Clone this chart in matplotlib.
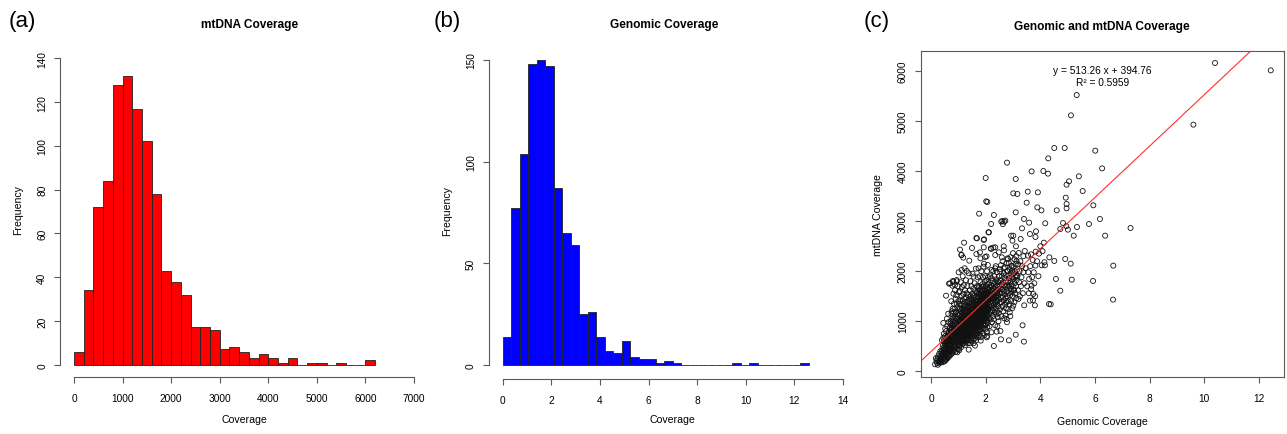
import numpy as np
import matplotlib
matplotlib.use("Agg")
import matplotlib.pyplot as plt

plt.rcParams['font.family'] = ['Liberation Sans', 'DejaVu Sans']

# ---------------- data ----------------
# (a) mtDNA coverage histogram (bin width 200 starting at 0)
mt_bin_start = 0
mt_bin_width = 200
mt_counts = [6, 34, 72, 84, 128, 132, 117, 102, 78, 43, 38, 32, 17, 17, 16, 7, 8, 6,
             3, 5, 3, 1, 3, 0, 1, 1, 0, 1, 0, 0, 2]
mt_xticks = [0, 1000, 2000, 3000, 4000, 5000, 6000, 7000]
mt_yticks = [0, 20, 40, 60, 80, 100, 120, 140]

# (b) genomic coverage histogram (bin width 0.35 starting at 0)
gen_bin_start = 0.0
gen_bin_width = 0.35
gen_counts = [14, 77, 104, 148, 150, 147, 87, 65, 59, 25, 26, 14, 7, 6, 12, 4, 3, 3, 1, 2, 1,
              0, 0, 0, 0, 0, 0, 1, 0, 1, 0, 0, 0, 0, 0, 1]
gen_xticks = [0, 2, 4, 6, 8, 10, 12, 14]
gen_yticks = [0, 50, 100, 150]

# (c) scatter: (genomic coverage, mtDNA coverage)
outlier_points = [
    (10.39, 6160), (12.43, 6013), (5.33, 5520), (5.12, 5114), (9.60, 4928), (4.51, 4462),
    (4.89, 4462), (6.01, 4408), (2.78, 4169), (4.29, 4255), (6.26, 4055), (2.00, 3862),
    (3.10, 3842), (3.68, 3995), (4.11, 4002), (4.28, 3949), (5.41, 3896), (5.05, 3796),
    (4.96, 3729), (5.55, 3602), (3.01, 3556), (3.16, 3543), (3.54, 3589), (3.91, 3576),
    (2.02, 3396), (2.06, 3383), (4.93, 3469), (4.96, 3343), (4.96, 3256), (3.50, 3369),
    (3.89, 3276), (4.04, 3216), (4.60, 3216), (5.94, 3316), (1.76, 3150), (3.10, 3176),
    (2.30, 3123), (7.30, 2863), (6.67, 2111), (6.66, 1432), (5.93, 1805), (5.78, 2943),
    (6.18, 3043), (6.37, 2710), (5.34, 2883), (5.22, 2710), (5.01, 2830), (4.73, 2843),
    (4.83, 2963), (4.91, 2244), (5.11, 2151), (5.15, 1831), (4.57, 1845), (4.73, 1611),
    (4.51, 2204), (4.33, 2277), (4.13, 2570), (4.18, 2957), (4.00, 2497), (4.05, 2118),
    (4.17, 2118), (4.32, 1345), (4.38, 1338), (3.80, 1318), (3.62, 1412), (3.41, 1318),
    (3.40, 593), (3.35, 919), (3.10, 732), (2.85, 619), (2.30, 506), (2.56, 639),
    (4.95, 2900), (3.88, 2200), (3.95, 2350), (4.08, 2400), (3.93, 1900), (4.15, 2180),
]
mid_points = [
    (2.61, 3003), (2.68, 2990), (2.63, 2940), (2.20, 2943), (2.10, 2777), (1.66, 2664),
    (1.93, 2624), (1.21, 2570), (1.50, 2464), (1.06, 2431), (1.11, 2324), (1.18, 2271),
    (1.01, 1978), (0.70, 1758), (0.80, 1805), (0.94, 1798), (0.66, 1751), (0.55, 1511),
    (0.45, 966), (0.45, 666), (3.40, 3043), (3.59, 2970), (3.33, 2857), (3.62, 2744),
    (3.84, 2797), (3.82, 2684), (3.01, 2710), (2.93, 2710), (2.98, 2610), (3.28, 2644),
    (3.11, 2497), (3.43, 2404), (3.55, 2311), (3.66, 2337), (3.83, 2391), (3.72, 2224),
    (3.82, 2111), (3.76, 1978), (3.68, 1711), (3.59, 1845), (3.74, 1545), (3.21, 2364),
    (3.13, 2198), (2.95, 2111), (2.82, 2244), (2.67, 2417), (2.48, 2377), (2.28, 2471),
    (2.20, 2444), (1.98, 2284), (1.79, 2377), (3.11, 1911), (3.38, 1978), (3.04, 1625),
    (3.20, 1445), (3.01, 1312), (2.88, 1179), (2.73, 1112), (2.77, 1045), (2.43, 899),
    (2.40, 792), (2.54, 806), (2.21, 779), (2.04, 679), (2.06, 706), (1.82, 613),
    (1.61, 513), (1.38, 433), (1.02, 446), (2.57, 2990), (2.72, 3010), (2.12, 2777),
    (1.68, 2657), (1.94, 2637), (1.93, 2477), (2.19, 2457), (2.35, 2477), (2.66, 2497),
    (1.12, 2324), (1.40, 2210), (1.66, 2344), (1.81, 2257), (2.03, 2297), (2.35, 2324),
    (2.59, 2277), (2.80, 2257), (1.23, 2058), (1.12, 2024), (1.31, 2004), (0.94, 1824),
    (0.82, 1791), (0.88, 1724), (0.78, 1711), (1.56, 1891), (1.74, 2058), (1.92, 2091),
    (2.08, 2124), (2.22, 2024), (2.35, 2058), (2.53, 1991), (2.66, 2058),
    (3.16, 1900), (3.18, 1620), (3.19, 2140), (3.22, 1780), (3.24, 2000), (3.25, 1500),
    (3.27, 2200), (3.29, 1700), (3.31, 1880), (3.33, 2100), (3.36, 1560), (3.38, 2300),
    (3.42, 1760), (3.46, 2060), (3.52, 1700), (3.56, 1980), (3.58, 1560), (3.63, 2100),
    (3.66, 1640), (3.70, 1880), (3.73, 1420), (3.78, 1760), (3.81, 1500),
]
core_low = [
    (0.15, 140), (0.18, 260), (0.20, 210), (0.22, 170), (0.24, 250), (0.25, 130), (0.26, 300),
    (0.28, 200), (0.30, 160), (0.30, 350), (0.32, 280), (0.33, 230), (0.34, 190), (0.34, 400),
    (0.36, 180), (0.37, 260), (0.38, 320), (0.39, 220), (0.40, 400), (0.40, 290), (0.41, 350),
    (0.42, 180), (0.42, 460), (0.43, 240), (0.44, 310), (0.44, 520), (0.45, 380), (0.46, 270),
    (0.46, 430), (0.47, 600), (0.48, 330), (0.48, 210), (0.49, 480), (0.50, 390), (0.50, 560),
    (0.51, 300), (0.51, 700), (0.52, 440), (0.53, 250), (0.53, 520), (0.54, 360), (0.54, 620),
    (0.55, 470), (0.55, 800), (0.56, 330), (0.56, 560), (0.57, 410), (0.57, 680), (0.58, 280),
    (0.58, 500), (0.59, 590), (0.59, 900), (0.60, 370), (0.60, 450), (0.61, 640), (0.61, 530),
    (0.62, 300), (0.62, 740), (0.62, 420), (0.63, 580), (0.63, 480), (0.64, 350), (0.64, 660),
    (0.64, 980), (0.65, 520), (0.65, 440), (0.66, 610), (0.66, 380), (0.66, 780), (0.67, 470),
    (0.67, 550), (0.67, 700), (0.68, 320), (0.68, 620), (0.68, 860), (0.69, 500), (0.69, 410),
    (0.69, 720), (0.40, 620), (0.47, 750), (0.52, 850), (0.58, 1050), (0.63, 1150), (0.60, 260),
    (0.55, 230), (0.50, 200), (0.65, 290),
    (0.70, 520), (0.70, 880), (0.71, 640), (0.71, 410), (0.72, 760), (0.72, 1000), (0.73, 560),
    (0.73, 690), (0.74, 450), (0.74, 830), (0.75, 600), (0.75, 1150), (0.76, 720), (0.76, 380),
    (0.77, 940), (0.77, 540), (0.78, 660), (0.78, 800), (0.79, 480), (0.79, 1250), (0.80, 590),
    (0.80, 900), (0.81, 710), (0.81, 430), (0.82, 1050), (0.82, 620), (0.83, 780), (0.83, 520),
    (0.84, 870), (0.84, 1350), (0.85, 650), (0.85, 960), (0.86, 560), (0.86, 740), (0.87, 1100),
    (0.87, 470), (0.88, 820), (0.88, 680), (0.89, 590), (0.89, 1000), (0.90, 760), (0.90, 1450),
    (0.91, 640), (0.91, 880), (0.92, 520), (0.92, 1180), (0.93, 720), (0.93, 950), (0.94, 610),
    (0.94, 810), (0.95, 1050), (0.95, 450), (0.96, 700), (0.96, 900), (0.97, 580), (0.97, 1280),
    (0.98, 780), (0.98, 660), (0.99, 1000), (0.99, 850), (1.00, 540), (1.00, 730), (1.01, 920),
    (1.01, 1120), (1.02, 640), (1.02, 800), (1.03, 1000), (1.03, 500), (1.04, 700), (1.04, 880),
    (0.72, 330), (0.78, 360), (0.84, 410), (0.90, 390), (0.96, 380), (1.03, 420), (0.74, 1400),
    (0.82, 1550), (0.88, 1620), (0.93, 1520), (0.98, 1700), (1.02, 1580), (0.76, 1200),
    (0.86, 1250), (0.94, 1350), (1.00, 1400), (0.71, 950), (0.79, 1080), (0.85, 1180),
    (0.91, 1060), (0.97, 1150), (1.04, 1250), (0.73, 820), (0.80, 1000), (0.87, 920),
    (0.92, 780), (0.99, 620), (1.03, 760), (0.77, 870),
]
core_mid = [
    (1.05, 620), (1.05, 980), (1.05, 1350), (1.05, 780), (1.06, 520), (1.06, 880), (1.06, 1150),
    (1.06, 1600), (1.07, 700), (1.07, 1020), (1.07, 840), (1.07, 1250), (1.08, 590), (1.08, 930),
    (1.08, 1430), (1.08, 760), (1.09, 1080), (1.09, 660), (1.09, 1780), (1.09, 890), (1.10, 480),
    (1.10, 1000), (1.10, 1200), (1.10, 810), (1.11, 720), (1.11, 950), (1.11, 1320), (1.11, 570),
    (1.12, 860), (1.12, 1100), (1.12, 1500), (1.12, 680), (1.13, 780), (1.13, 1040), (1.13, 910),
    (1.13, 1680), (1.14, 610), (1.14, 990), (1.14, 1260), (1.14, 830), (1.15, 740), (1.15, 1130),
    (1.15, 540), (1.15, 1400), (1.16, 880), (1.16, 1060), (1.16, 690), (1.16, 1900), (1.17, 950),
    (1.17, 770), (1.17, 1210), (1.17, 620), (1.18, 1010), (1.18, 840), (1.18, 1550), (1.18, 710),
    (1.19, 900), (1.19, 1160), (1.19, 560), (1.19, 1340), (1.20, 800), (1.20, 1050), (1.20, 660),
    (1.20, 1720), (1.21, 930), (1.21, 1240), (1.21, 750), (1.21, 1080), (1.22, 600), (1.22, 1000),
    (1.22, 1450), (1.22, 860), (1.23, 720), (1.23, 1120), (1.23, 940), (1.23, 1300), (1.24, 820),
    (1.24, 1030), (1.24, 520), (1.24, 1620), (1.25, 980), (1.25, 760), (1.25, 1190), (1.25, 880),
    (1.26, 640), (1.26, 1090), (1.26, 1380), (1.26, 920), (1.27, 1000), (1.27, 790), (1.27, 1250),
    (1.27, 700), (1.28, 860), (1.28, 1140), (1.28, 1820), (1.28, 580), (1.29, 950), (1.29, 1060),
    (1.29, 740), (1.29, 1480), (1.30, 1020), (1.30, 830), (1.30, 1330), (1.30, 660), (1.31, 900),
    (1.31, 1180), (1.31, 760), (1.31, 1560), (1.32, 1080), (1.32, 960), (1.32, 620), (1.32, 1270),
    (1.33, 840), (1.33, 1120), (1.33, 1000), (1.33, 1700), (1.34, 730), (1.34, 1040), (1.34, 1400),
    (1.34, 900), (1.35, 980), (1.35, 1210), (1.35, 560), (1.35, 810), (1.36, 1100), (1.36, 880),
    (1.36, 1520), (1.36, 700), (1.37, 1010), (1.37, 1290), (1.37, 780), (1.37, 930), (1.38, 860),
    (1.38, 1150), (1.38, 1960), (1.38, 640), (1.39, 1060), (1.39, 950), (1.39, 1380), (1.39, 750),
    (1.40, 720), (1.40, 1100), (1.40, 1450), (1.40, 900), (1.41, 620), (1.41, 1000), (1.41, 1280),
    (1.41, 840), (1.42, 1170), (1.42, 760), (1.42, 1620), (1.42, 950), (1.43, 880), (1.43, 1060),
    (1.43, 560), (1.43, 1350), (1.44, 1000), (1.44, 1220), (1.44, 700), (1.44, 1800), (1.45, 930),
    (1.45, 1130), (1.45, 820), (1.45, 1500), (1.46, 1070), (1.46, 660), (1.46, 1260), (1.46, 980),
    (1.47, 800), (1.47, 1160), (1.47, 1420), (1.47, 1040), (1.48, 890), (1.48, 1320), (1.48, 600),
    (1.48, 1700), (1.49, 1100), (1.49, 960), (1.49, 740), (1.49, 1230), (1.50, 1020), (1.50, 1380),
    (1.50, 850), (1.50, 1150), (1.51, 700), (1.51, 1080), (1.51, 1550), (1.51, 940), (1.52, 1210),
    (1.52, 1000), (1.52, 800), (1.52, 1950), (1.53, 900), (1.53, 1120), (1.53, 1300), (1.53, 640),
    (1.54, 1050), (1.54, 1460), (1.54, 860), (1.54, 1180), (1.55, 760), (1.55, 1000), (1.55, 1250),
    (1.55, 1650), (1.56, 1110), (1.56, 920), (1.56, 1380), (1.56, 560), (1.57, 1030), (1.57, 1200),
    (1.57, 820), (1.57, 1520), (1.58, 950), (1.58, 1300), (1.58, 700), (1.58, 1080), (1.59, 1170),
    (1.59, 1000), (1.59, 1760), (1.59, 880), (1.60, 1240), (1.60, 780), (1.60, 1100), (1.60, 1420),
    (1.61, 960), (1.61, 1160), (1.61, 660), (1.61, 1350), (1.62, 1060), (1.62, 880), (1.62, 1280),
    (1.62, 1600), (1.63, 1200), (1.63, 980), (1.63, 740), (1.63, 1480), (1.64, 1100), (1.64, 1320),
    (1.64, 860), (1.64, 2050), (1.65, 1020), (1.65, 1250), (1.65, 620), (1.65, 1400), (1.66, 1150),
    (1.66, 940), (1.66, 1560), (1.66, 800), (1.67, 1080), (1.67, 1340), (1.67, 1200), (1.67, 700),
    (1.68, 990), (1.68, 1260), (1.68, 1700), (1.68, 880), (1.69, 1130), (1.69, 1440), (1.69, 1000),
    (1.69, 760), (1.70, 1220), (1.70, 1060), (1.70, 1580), (1.70, 920), (1.71, 1300), (1.71, 840),
    (1.71, 1150), (1.71, 1880), (1.72, 1000), (1.72, 1400), (1.72, 680), (1.72, 1240), (1.73, 1120),
    (1.73, 1500), (1.73, 900), (1.73, 1320), (1.74, 1040), (1.74, 1660), (1.74, 820), (1.74, 1200),
]
core_high = [
    (1.75, 1100), (1.75, 1380), (1.75, 800), (1.75, 1560), (1.76, 1250), (1.76, 960), (1.76, 1700),
    (1.76, 1140), (1.77, 1320), (1.77, 880), (1.77, 1480), (1.77, 1040), (1.78, 1180), (1.78, 1620),
    (1.78, 720), (1.78, 1400), (1.79, 1060), (1.79, 1280), (1.79, 1900), (1.79, 940), (1.80, 1360),
    (1.80, 1150), (1.80, 820), (1.80, 1540), (1.81, 1240), (1.81, 1000), (1.81, 1440), (1.81, 1780),
    (1.82, 1120), (1.82, 1340), (1.82, 900), (1.82, 1600), (1.83, 1290), (1.83, 1040), (1.83, 1500),
    (1.83, 680), (1.84, 1200), (1.84, 1420), (1.84, 960), (1.84, 2000), (1.85, 1350), (1.85, 1100),
    (1.85, 1680), (1.85, 840), (1.86, 1260), (1.86, 1480), (1.86, 1020), (1.86, 1180), (1.87, 1400),
    (1.87, 880), (1.87, 1580), (1.87, 1300), (1.88, 1140), (1.88, 1740), (1.88, 1000), (1.88, 1380),
    (1.89, 1220), (1.89, 1460), (1.89, 760), (1.89, 1620), (1.90, 1320), (1.90, 1080), (1.90, 1520),
    (1.90, 1880), (1.91, 1180), (1.91, 1400), (1.91, 940), (1.91, 1260), (1.92, 1440), (1.92, 1060),
    (1.92, 1700), (1.92, 1340), (1.93, 1240), (1.93, 860), (1.93, 1560), (1.93, 1120), (1.94, 1380),
    (1.94, 1500), (1.94, 1000), (1.94, 2150), (1.95, 1280), (1.95, 1640), (1.95, 1180), (1.95, 720),
    (1.96, 1420), (1.96, 1080), (1.96, 1340), (1.96, 1780), (1.97, 1200), (1.97, 1520), (1.97, 920),
    (1.97, 1460), (1.98, 1300), (1.98, 1060), (1.98, 1620), (1.98, 1380), (1.99, 1500), (1.99, 1160),
    (1.99, 840), (1.99, 1900), (2.00, 1240), (2.00, 1440), (2.00, 1000), (2.00, 1560), (2.01, 1360),
    (2.01, 1700), (2.01, 1120), (2.01, 1280), (2.02, 1480), (2.02, 940), (2.02, 1600), (2.02, 1200),
    (2.03, 1400), (2.03, 1060), (2.03, 1820), (2.03, 1320), (2.04, 1540), (2.04, 1180), (2.04, 780),
    (2.04, 1460), (2.05, 1280), (2.05, 1660), (2.05, 1020), (2.05, 2000), (2.06, 1420), (2.06, 1140),
    (2.06, 1560), (2.06, 880), (2.07, 1340), (2.07, 1740), (2.07, 1220), (2.07, 1500), (2.08, 1100),
    (2.08, 1440), (2.08, 1620), (2.08, 960), (2.09, 1380), (2.09, 1260), (2.09, 1880), (2.09, 1540),
    (2.10, 1240), (2.10, 1620), (2.11, 1420), (2.11, 1060), (2.12, 1760), (2.12, 1320), (2.13, 1140),
    (2.13, 1540), (2.14, 1460), (2.14, 900), (2.15, 1680), (2.15, 1280), (2.16, 1380), (2.16, 1900),
    (2.17, 1200), (2.17, 1580), (2.18, 1500), (2.18, 1040), (2.19, 1720), (2.19, 1340), (2.20, 1440),
    (2.20, 1160), (2.21, 1620), (2.21, 1860), (2.22, 1300), (2.22, 1520), (2.23, 980), (2.23, 1700),
    (2.24, 1400), (2.24, 1600), (2.25, 1220), (2.25, 1800), (2.26, 1480), (2.26, 1100), (2.27, 1660),
    (2.27, 1360), (2.28, 1560), (2.28, 2000), (2.29, 1260), (2.29, 1440), (2.30, 1740), (2.30, 1040),
    (2.31, 1520), (2.31, 1320), (2.32, 1640), (2.32, 1900), (2.33, 1180), (2.33, 1460), (2.34, 1580),
    (2.34, 1380), (2.35, 1780), (2.35, 920), (2.36, 1500), (2.36, 1260), (2.37, 1680), (2.37, 2100),
    (2.38, 1420), (2.38, 1560), (2.39, 1140), (2.39, 1840), (2.40, 1620), (2.40, 1340), (2.41, 1480),
    (2.41, 1980), (2.42, 1200), (2.42, 1720), (2.43, 1560), (2.43, 1400), (2.44, 1800), (2.44, 1080),
    (2.45, 1520), (2.46, 1300), (2.46, 1780), (2.47, 1640), (2.48, 1160), (2.49, 1900), (2.49, 1440),
    (2.50, 1700), (2.51, 1360), (2.52, 2040), (2.52, 1580), (2.53, 1240), (2.54, 1820), (2.55, 1480),
    (2.55, 1660), (2.56, 2120), (2.57, 1380), (2.58, 1740), (2.58, 1100), (2.59, 1560), (2.60, 1900),
    (2.61, 1300), (2.61, 1640), (2.62, 2200), (2.63, 1480), (2.64, 1780), (2.64, 1200), (2.65, 1600),
    (2.66, 1960), (2.67, 1420), (2.67, 1720), (2.68, 1060), (2.69, 1860), (2.70, 1540), (2.70, 2080),
    (2.71, 1340), (2.72, 1680), (2.73, 1920), (2.73, 1460), (2.74, 1260), (2.75, 1800), (2.76, 1600),
    (2.76, 2160), (2.77, 1380), (2.78, 1720), (2.78, 980), (2.79, 1500), (2.79, 2000), (2.47, 1000),
    (2.80, 1660), (2.81, 1400), (2.81, 2000), (2.82, 1780), (2.83, 1240), (2.84, 1920), (2.84, 1560),
    (2.85, 2160), (2.86, 1700), (2.87, 1340), (2.87, 1860), (2.88, 2040), (2.89, 1520), (2.90, 1800),
    (2.90, 1100), (2.91, 2280), (2.92, 1640), (2.93, 1960), (2.93, 1400), (2.94, 1740), (2.95, 2100),
    (2.96, 1580), (2.97, 1880), (2.97, 1260), (2.98, 2000), (2.99, 1700), (3.00, 2360), (3.00, 1500),
    (3.01, 1840), (3.02, 2080), (3.03, 1620), (3.04, 1960), (3.05, 1380), (3.05, 2240), (3.06, 1760),
    (3.07, 2000), (3.08, 1560), (3.09, 1880), (3.10, 2140), (3.11, 1700), (3.12, 1460), (3.12, 2300),
    (3.13, 1820), (3.14, 2020),
]
reg_slope = 513.26
reg_intercept = 394.76
reg_r2 = 0.5959
sc_xticks = [0, 2, 4, 6, 8, 10, 12]
sc_yticks = [0, 1000, 2000, 3000, 4000, 5000, 6000]

# ---------------- layout helpers ----------------
W, H = 1287, 435
fig = plt.figure(figsize=(W / 100, H / 100), dpi=100)
fig.patch.set_facecolor('white')

def add_ax(l, r, t, b):
    return fig.add_axes([l / W, 1 - b / H, (r - l) / W, (b - t) / H])

def lims(p0, v0, p1, v1, a, b):
    s = (p1 - p0) / (v1 - v0)
    return (v0 + (a - p0) / s, v0 + (b - p0) / s)

def ftext(x, y, s, **kw):
    fig.text(x / W, 1 - y / H, s, ha='center', va='center', **kw)

AX_COL = '#5a5a5a'
TICK_FS = 7.3
LAB_FS = 7.6

def style_hist(ax, xt, yt):
    for s in ['top', 'right']:
        ax.spines[s].set_visible(False)
    for s in ['left', 'bottom']:
        ax.spines[s].set_color(AX_COL)
        ax.spines[s].set_linewidth(0.8)
    ax.spines['bottom'].set_bounds(xt[0], xt[-1])
    ax.spines['left'].set_bounds(yt[0], yt[-1])
    ax.set_xticks(xt)
    ax.set_yticks(yt)
    ax.tick_params(axis='both', length=4.5, width=0.8, color=AX_COL, labelsize=TICK_FS)
    ax.tick_params(axis='x', pad=7)
    ax.tick_params(axis='y', pad=5)
    for lab in ax.get_yticklabels():
        lab.set_rotation(90)
        lab.set_va('center')

# ---------------- (a) ----------------
axa = add_ax(60.4, 427.6, 47, 378)
mt_edges = mt_bin_start + mt_bin_width * np.arange(len(mt_counts))
axa.bar(mt_edges, mt_counts, width=mt_bin_width, align='edge', color='#ff0000',
        edgecolor='#222222', linewidth=0.6)
axa.set_xlim(*lims(74, 0, 414, 7000, 60.4, 427.6))
axa.set_ylim(*lims(365.7, 0, 59.3, 140, 378, 47))
style_hist(axa, mt_xticks, mt_yticks)

# ---------------- (b) ----------------
axb = add_ax(489.1, 856.5, 48, 380)
gen_edges = gen_bin_start + gen_bin_width * np.arange(len(gen_counts))
axb.bar(gen_edges, gen_counts, width=gen_bin_width, align='edge', color='#0000ff',
        edgecolor='#222222', linewidth=0.6)
axb.set_xlim(*lims(502.7, 0, 794.3, 12, 489.1, 856.5))
axb.set_ylim(*lims(366, 0, 61, 150, 380, 48))
style_hist(axb, gen_xticks, gen_yticks)

# ---------------- (c) ----------------
axc = add_ax(921, 1284, 52, 378)
pts = outlier_points + mid_points + core_low + core_mid + core_high
gx = [p[0] for p in pts]
my = [p[1] for p in pts]
axc.scatter(gx, my, s=13, facecolors='none', edgecolors='#111111', linewidths=0.6)
axc.set_xlim(*lims(931, 0, 1259, 12, 921, 1284))
axc.set_ylim(*lims(372.3, 0, 72, 6000, 378, 52))
axc.axline((0, reg_intercept), slope=reg_slope, color='#ff3030', linewidth=0.8)
for s in axc.spines.values():
    s.set_color(AX_COL)
    s.set_linewidth(0.8)
axc.set_xticks(sc_xticks)
axc.set_yticks(sc_yticks)
axc.tick_params(axis='both', length=4.5, width=0.8, color=AX_COL, labelsize=TICK_FS)
axc.tick_params(axis='x', pad=7)
axc.tick_params(axis='y', pad=5)
for lab in axc.get_yticklabels():
    lab.set_rotation(90)
    lab.set_va('center')
axc.text(6.26, 6014, f"y = {reg_slope:.2f} x + {reg_intercept:.2f}", ha='center', va='center',
         fontsize=7.3)
axc.text(6.26, 5786, f"R\u00b2 = {reg_r2:.4f}", ha='center', va='center', fontsize=7.3)

# ---------------- texts ----------------
ftext(22, 22, '(a)', fontsize=16)
ftext(447, 22, '(b)', fontsize=16)
ftext(877, 21, '(c)', fontsize=16)
ftext(250, 25, 'mtDNA Coverage', fontsize=8.6, fontweight='bold')
ftext(664, 25, 'Genomic Coverage', fontsize=8.6, fontweight='bold')
ftext(1102, 27, 'Genomic and mtDNA Coverage', fontsize=8.6, fontweight='bold')
ftext(18, 210, 'Frequency', fontsize=LAB_FS, rotation=90)
ftext(447, 211, 'Frequency', fontsize=LAB_FS, rotation=90)
ftext(878, 215, 'mtDNA Coverage', fontsize=LAB_FS, rotation=90)
ftext(244, 420, 'Coverage', fontsize=LAB_FS)
ftext(672, 420, 'Coverage', fontsize=LAB_FS)
ftext(1102, 422, 'Genomic Coverage', fontsize=LAB_FS)

fig.savefig('out.png', dpi=100, facecolor='white')
